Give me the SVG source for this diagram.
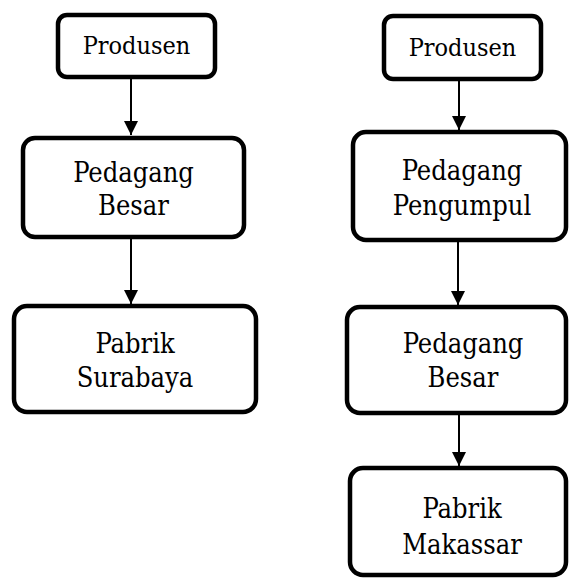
<svg xmlns="http://www.w3.org/2000/svg" width="570" height="579" viewBox="0 0 570 579">
<style>
.box{fill:#fff;stroke:#000;stroke-width:4.5}
.t{font-family:"DejaVu Serif","Liberation Serif",serif;font-stretch:condensed;font-size:27px;fill:#000;text-anchor:middle}
.s{font-size:25px}
.c{stroke:#000;stroke-width:2;fill:none}
</style>
<defs>
<marker id="ah" viewBox="0 0 14 14" refX="14" refY="7" markerWidth="14" markerHeight="14" markerUnits="userSpaceOnUse" orient="auto">
<path d="M0,0 L14,7 L0,14 Z" fill="#000"/>
</marker>
</defs>
<rect width="570" height="579" fill="#fff"/>
<g id="connectors">
<line class="c" x1="131" y1="79" x2="131" y2="135" marker-end="url(#ah)"/>
<line class="c" x1="131" y1="239" x2="131" y2="304" marker-end="url(#ah)"/>
<line class="c" x1="459" y1="81" x2="459" y2="130" marker-end="url(#ah)"/>
<line class="c" x1="458" y1="242" x2="458" y2="305" marker-end="url(#ah)"/>
<line class="c" x1="459" y1="415" x2="459" y2="466" marker-end="url(#ah)"/>
</g>
<g id="produsen-left">
<rect class="box" x="58" y="15" width="157" height="62" rx="9"/>
<text class="t s" x="136.5" y="54">Produsen</text>
</g>
<g id="pedagang-besar-left">
<rect class="box" x="23" y="138" width="221" height="99" rx="12"/>
<text class="t" x="133.5" y="182">Pedagang</text>
<text class="t" x="133.5" y="215">Besar</text>
</g>
<g id="pabrik-surabaya">
<rect class="box" x="14" y="306" width="242" height="106" rx="13"/>
<text class="t" x="135" y="353">Pabrik</text>
<text class="t" x="135" y="387">Surabaya</text>
</g>
<g id="produsen-right">
<rect class="box" x="384" y="16" width="157" height="63" rx="9"/>
<text class="t s" x="462.5" y="56">Produsen</text>
</g>
<g id="pedagang-pengumpul">
<rect class="box" x="353" y="132" width="213" height="108" rx="13"/>
<text class="t" x="462" y="180">Pedagang</text>
<text class="t" x="462" y="215">Pengumpul</text>
</g>
<g id="pedagang-besar-right">
<rect class="box" x="347" y="307" width="219" height="106" rx="13"/>
<text class="t" x="463" y="353">Pedagang</text>
<text class="t" x="463" y="387">Besar</text>
</g>
<g id="pabrik-makassar">
<rect class="box" x="350" y="468" width="216" height="107" rx="13"/>
<text class="t" x="462" y="518">Pabrik</text>
<text class="t" x="462" y="554">Makassar</text>
</g>
</svg>
